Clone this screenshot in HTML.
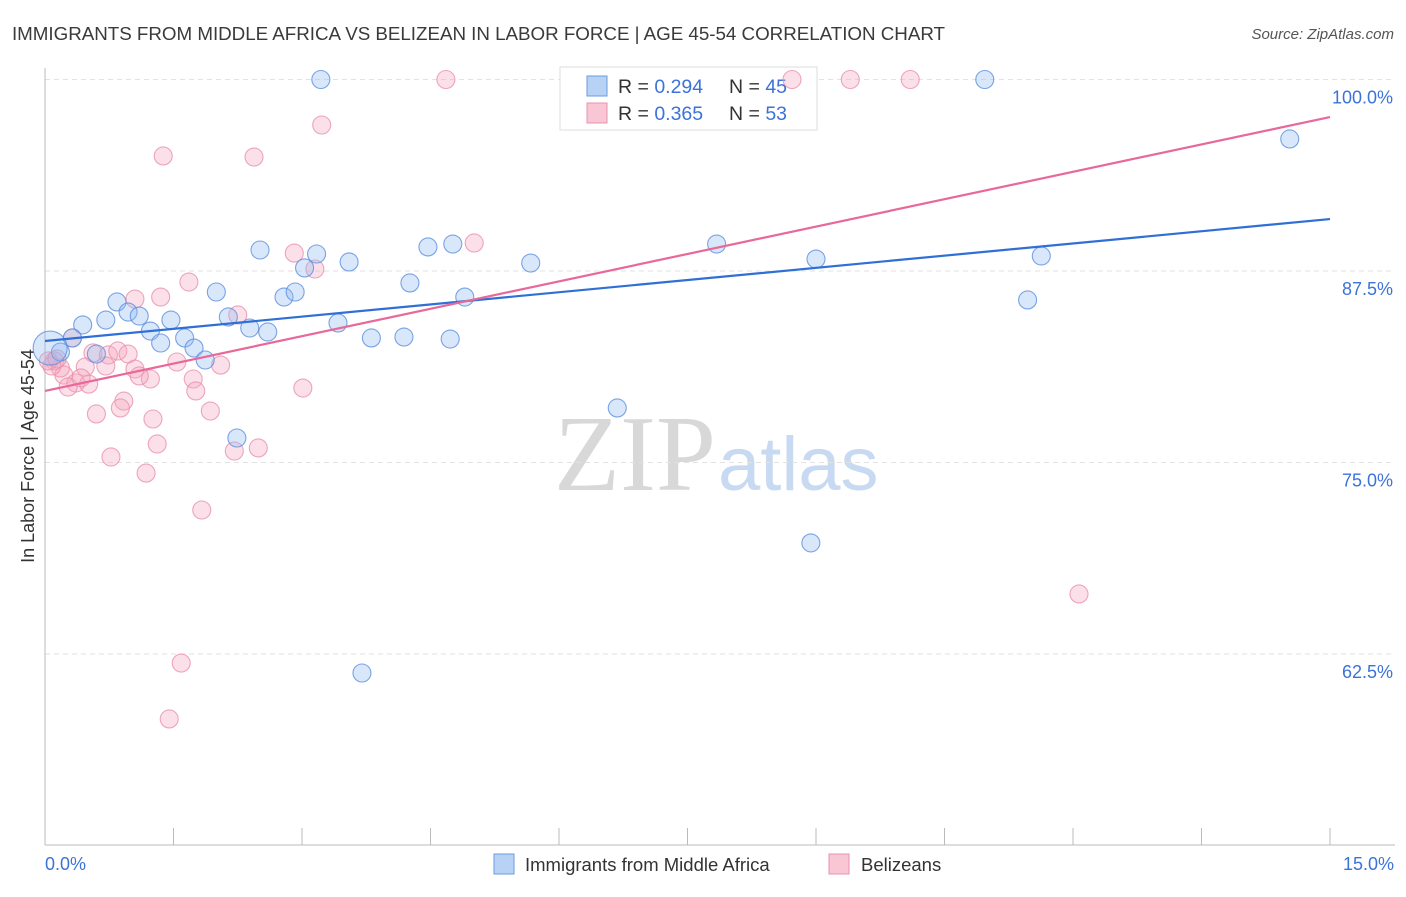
<!DOCTYPE html>
<html><head><meta charset="utf-8"><style>
body{margin:0;background:#fff;width:1406px;height:892px;overflow:hidden;font-family:"Liberation Sans",sans-serif}
</style></head><body>
<svg id="chart" width="1406" height="892" xmlns="http://www.w3.org/2000/svg" font-family="Liberation Sans, sans-serif">
<text x="12" y="40" font-size="18.8" fill="#3a3a3a" textLength="933">IMMIGRANTS FROM MIDDLE AFRICA VS BELIZEAN IN LABOR FORCE | AGE 45-54 CORRELATION CHART</text>
<text x="1394" y="39" font-size="15" fill="#555" font-style="italic" text-anchor="end">Source: ZipAtlas.com</text>
<text x="716" y="490" font-size="108" text-anchor="end" fill="#d8d8d8" font-family="Liberation Serif, serif">ZIP</text>
<text x="718" y="490" font-size="76" fill="#c8daf2">atlas</text>
<g id="grid"></g>
<line x1="45" y1="68" x2="45" y2="845" stroke="#bbb"/>
<line x1="45" y1="845" x2="1395" y2="845" stroke="#bbb"/>
<g id="ticks"></g>
<text transform="translate(34,456) rotate(-90)" font-size="18" fill="#333" text-anchor="middle">In Labor Force | Age 45-54</text>
<text x="45" y="870" font-size="18" fill="#3b73d9">0.0%</text>
<text x="1394" y="870" font-size="18" fill="#3b73d9" text-anchor="end">15.0%</text>
<g>
<rect x="560" y="67" width="257" height="63" fill="#fff" stroke="#ddd"/>
<rect x="587" y="76" width="20" height="20" fill="#b7d2f4" stroke="#6a9be0"/>
<rect x="587" y="103" width="20" height="20" fill="#f9c6d5" stroke="#e891ad"/>
<text x="618" y="93" font-size="19.5" fill="#333">R = <tspan fill="#3b73d9">0.294</tspan></text>
<text x="729" y="93" font-size="19.5" fill="#333">N = <tspan fill="#3b73d9">45</tspan></text>
<text x="618" y="120" font-size="19.5" fill="#333">R = <tspan fill="#3b73d9">0.365</tspan></text>
<text x="729" y="120" font-size="19.5" fill="#333">N = <tspan fill="#3b73d9">53</tspan></text>
</g>
<g id="pts"></g>
<g id="lines"></g>
<g>
<rect x="494" y="854" width="20" height="20" fill="#b7d2f4" stroke="#6a9be0"/>
<text x="525" y="871" font-size="18.5" fill="#333">Immigrants from Middle Africa</text>
<rect x="829" y="854" width="20" height="20" fill="#f9c6d5" stroke="#e891ad"/>
<text x="861" y="871" font-size="18.5" fill="#333">Belizeans</text>
</g>
</svg>
<script>
const yTicks=[100,87.5,75,62.5];
const yTickLabels=["100.0%","87.5%","75.0%","62.5%"];
const blueX=[3.22,10.97,14.53,2.51,3.17,3.55,4.47,4.76,5.67,7.84,9.00,11.63,3.03,4.26,2.00,2.79,2.92,4.90,11.47,0.84,0.97,1.10,0.71,0.44,1.47,2.14,2.39,2.60,3.42,1.23,0.32,1.35,1.63,1.74,1.87,3.81,4.19,4.73,0.60,0.18,0.06,6.68,2.24,8.94,3.70];
const blueY=[100,100,96.12,88.87,88.61,88.09,89.07,89.26,88.02,89.26,88.28,88.48,87.70,86.72,86.13,85.80,86.13,85.80,85.61,85.48,84.82,84.56,84.30,83.98,84.30,84.50,83.78,83.52,84.11,83.58,83.13,82.80,83.13,82.47,81.69,83.13,83.19,83.06,82.08,82.21,82.47,78.56,76.60,69.75,61.26];
const blueR=[9,9,9,9,9,9,9,9,9,9,9,9,9,9,9,9,9,9,9,9,9,9,9,9,9,9,9,9,9,9,9,9,9,9,9,9,9,9,9,9,17,9,9,9,9];
const pinkX=[4.68,8.72,9.40,10.10,3.23,1.38,2.44,5.01,2.91,3.15,1.68,1.05,1.35,2.25,0.32,0.11,0.22,0.18,0.56,0.74,0.85,0.97,0.71,0.47,1.05,1.23,1.10,1.54,2.05,1.73,1.76,3.01,0.36,0.27,0.51,0.42,0.92,0.88,0.60,1.26,1.93,1.31,2.21,2.49,0.77,1.18,1.83,12.07,1.59,1.45,0.08,0.04,0.14];
const pinkY=[100,100,100,100,97.03,95.01,94.94,89.33,88.67,87.63,86.78,85.67,85.80,84.63,83.13,81.63,80.71,81.17,82.15,82.02,82.28,82.08,81.30,81.23,81.10,80.45,80.65,81.56,81.36,80.45,79.67,79.86,80.19,79.93,80.12,80.52,79.01,78.56,78.17,77.84,78.36,76.21,75.75,75.95,75.36,74.31,71.90,66.42,61.91,58.26,81.30,81.63,81.76];
const blueTrend=[82.93,90.89];
const pinkTrend=[79.67,97.55];
const xDomain=[0,15];
const NS="http://www.w3.org/2000/svg";
function sx(v){return 45+(v-xDomain[0])/(xDomain[1]-xDomain[0])*1285;}
function sy(v){return 79.5+(100-v)/12.5*191.5;}
function mk(t,a,p){const e=document.createElementNS(NS,t);for(const k in a)e.setAttribute(k,a[k]);p.appendChild(e);return e;}
const grid=document.getElementById('grid');
yTicks.forEach((t,i)=>{
 const l=mk('line',{x1:45,x2:1395,y1:sy(t),y2:sy(t),stroke:'#e2e2e2','stroke-dasharray':'5,4'},grid);
 
 
 const tx=mk('text',{x:1393,y:sy(t)+24,'font-size':18,fill:'#3b73d9','text-anchor':'end'},grid);
 tx.textContent=yTickLabels[i];
 
 
});
const ticks=document.getElementById('ticks');
for(let k=0;k<=10;k++){
 const x=sx(xDomain[0]+k*(xDomain[1]-xDomain[0])/10);
 const l=mk('line',{x1:x,x2:x,y1:828,y2:845,stroke:'#bbb'},ticks);
 
 
}
const pts=document.getElementById('pts');
function series(xs,ys,rs,fill,stroke,name){
 xs.forEach((v,i)=>{
  const c=mk('circle',{cx:sx(v),cy:sy(ys[i]),r:rs?rs[i]:9,fill:fill,'fill-opacity':0.35,stroke:stroke,'stroke-opacity':0.8,'stroke-width':1.1},pts);
  
  
 });
}
series(pinkX,pinkY,null,'#f5a6c0','#e891ad','belizean-point');
series(blueX,blueY,blueR,'#93bbf0','#5b8fde','middle-africa-point');
const lines=document.getElementById('lines');
const bl=mk('line',{x1:sx(0),y1:sy(blueTrend[0]),x2:sx(15),y2:sy(blueTrend[1]),stroke:'#2f6fd6','stroke-width':2.2},lines);


const pl=mk('line',{x1:sx(0),y1:sy(pinkTrend[0]),x2:sx(15),y2:sy(pinkTrend[1]),stroke:'#e8689a','stroke-width':2.2},lines);


</script>
</body></html>
